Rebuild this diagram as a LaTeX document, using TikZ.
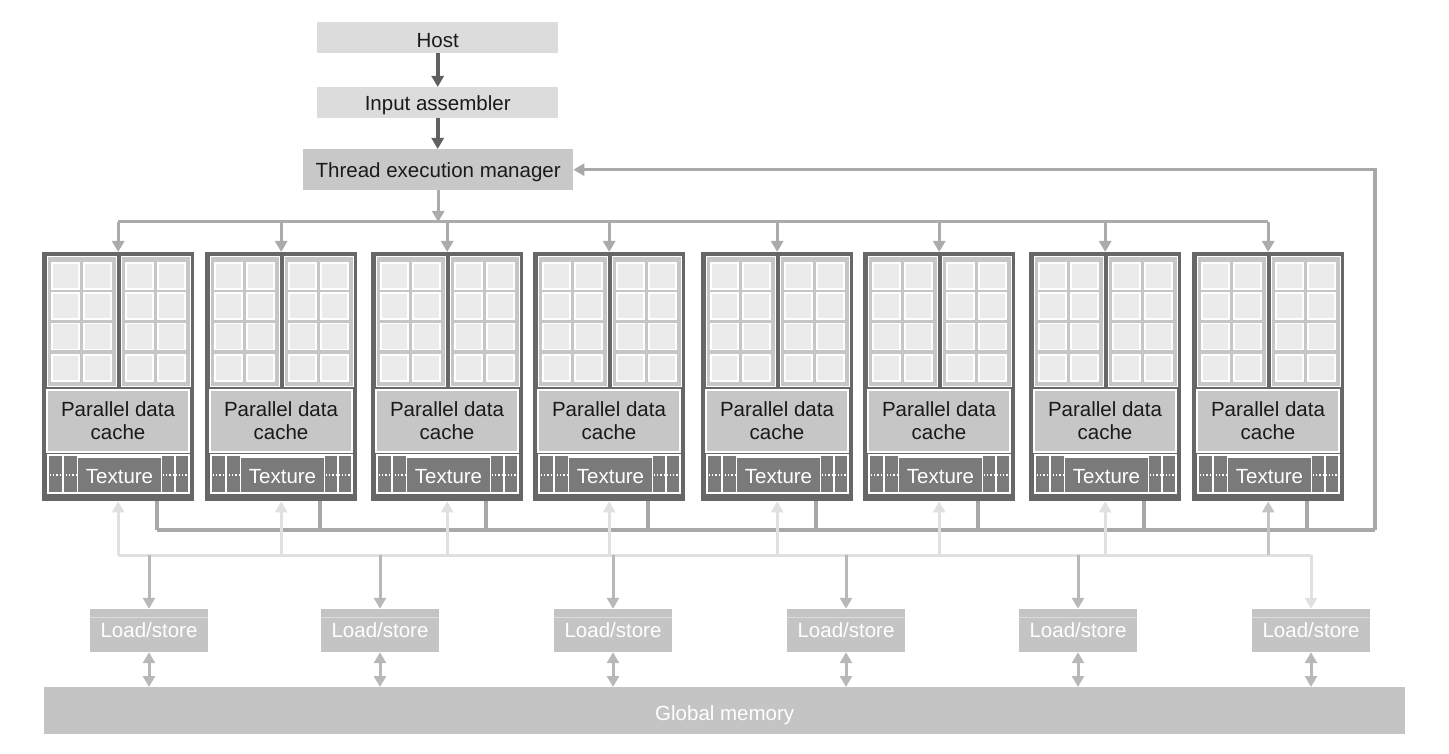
\documentclass[tikz,border=0pt]{standalone}
\usepackage{fontspec}
\setmainfont{Liberation Sans}
\usetikzlibrary{arrows.meta}
\definecolor{hostfill}{HTML}{DCDCDC}
\definecolor{temfill}{HTML}{C8C8C8}
\definecolor{darkarrow}{HTML}{606060}
\definecolor{busgray}{HTML}{ABABAB}
\definecolor{smframe}{HTML}{676767}
\definecolor{clusterfill}{HTML}{C6C6C6}
\definecolor{cellfill}{HTML}{EBEBEB}
\definecolor{pdcfill}{HTML}{C6C6C6}
\definecolor{texfill}{HTML}{7A7A7A}
\definecolor{retgray}{HTML}{A8A8A8}
\definecolor{lightbus}{HTML}{E0E0E0}
\definecolor{lsgray}{HTML}{B8B8B8}
\definecolor{lsfill}{HTML}{C4C4C4}
\definecolor{txtdark}{HTML}{1A1A1A}
\begin{document}
\begin{tikzpicture}[x=1pt,y=-1pt,
  font=\fontsize{20.5}{24}\selectfont,
  topbox/.style={rectangle, inner sep=0pt, draw=none, text=txtdark},
  smbox/.style={rectangle, inner sep=0pt, fill=smframe, draw=none, minimum width=152pt, minimum height=249pt, anchor=north west},
  clusterbox/.style={fill=clusterfill, draw=white, line width=1pt},
  cellbox/.style={fill=cellfill, draw=white, line width=1.5pt},
  pdcbox/.style={rectangle, inner sep=0pt, fill=pdcfill, draw=white, line width=1.5pt, minimum width=142pt, minimum height=62pt, align=center, text=txtdark},
  texrow/.style={fill=texfill, draw=white, line width=1.5pt},
  texbox/.style={rectangle, inner sep=0pt, fill=texfill, draw=white, line width=1.5pt, minimum width=84pt, minimum height=36pt, text=white},
  lsbox/.style={rectangle, inner sep=0pt, fill=lsfill, draw=none, minimum width=118pt, minimum height=43pt, text=white},
  tip/.style={-{Triangle[width=12pt,length=11pt]}},
  dbltip/.style={{Triangle[width=12pt,length=11pt]}-{Triangle[width=12pt,length=11pt]}},
  darkarr/.style={tip, draw=darkarrow, fill=darkarrow, line width=4pt},
  busarr/.style={tip, draw=busgray, line width=3pt},
  busline/.style={draw=busgray, line width=3pt},
  retline/.style={draw=retgray, line width=3.5pt},
  lightline/.style={draw=lightbus, line width=3pt},
  lightarr/.style={tip, draw=lightbus, line width=3pt},
  lsarr/.style={tip, draw=lsgray, line width=3pt},
  dblarr/.style={dbltip, draw=lsgray, line width=3pt},
  lowtext/.style={text depth=0pt}
]
\useasboundingbox (0,0) rectangle (1449,754);

% top chain
\node[topbox, fill=hostfill, minimum width=241pt, minimum height=31pt, anchor=north west] (host) at (317,22) {};
\node[text=txtdark, inner sep=0pt] (hostlabel) at ([yshift=-3pt]host.center) {Host};
\node[topbox, lowtext, fill=hostfill, minimum width=241pt, minimum height=31pt, anchor=north west] (ia) at (317,87) {Input assembler};
\node[topbox, lowtext, fill=temfill, minimum width=270pt, minimum height=41pt, anchor=north west] (tem) at (303,149) {Thread execution manager};
\draw[darkarr] (host.south) -- (ia.north);
\draw[darkarr] (ia.south) -- (tem.north -| ia.south);

% distribution bus
\coordinate (busL) at (118,222);
\coordinate (busR) at (1268,222);
\draw[busline] (busL) -- (busR);
\draw[busarr] (tem.south) -- (tem.south |- busL);

% blocks
\foreach \L [count=\i] in {42,205,371,533,701,863,1029,1192}{
  \node[smbox] (sm\i) at (\L,252) {};
  \foreach \c in {0,74}{
    \draw[clusterbox] ({\L+5+\c},257) rectangle ({\L+74+\c},386);
    \foreach \cx in {10,42}{
      \foreach \ry in {263,293,323.5,355}{
        \draw[cellbox] ({\L+\c+\cx},\ry) rectangle ({\L+\c+\cx+27},{\ry+26});
      }
    }
  }
  \node[pdcbox] (pdc\i) at ({\L+76},421) {Parallel data\\[-1pt]cache};
  \draw[texrow] ({\L+6},455) rectangle ({\L+147},493);
  \draw[white, line width=1.5pt] ({\L+21},455) -- ({\L+21},493);
  \draw[white, line width=1.5pt] ({\L+133},455) -- ({\L+133},493);
  \draw[white, line width=1.2pt, dotted] ({\L+8},475) -- ({\L+34},475);
  \draw[white, line width=1.2pt, dotted] ({\L+121},475) -- ({\L+146},475);
  \node[texbox] (tex\i) at ({\L+77.5},475) {};
  \node[text=white, inner sep=0pt] (texlabel\i) at ([yshift=-1.5pt]tex\i.center) {Texture};
  \draw[busarr] (sm\i.north |- busL) -- (sm\i.north);
  \coordinate (tk\i) at ({\L+115},501);
}

% return path to the thread execution manager
\coordinate (retL) at (157,530);
\coordinate (retR) at (1375,530);
\foreach \i in {1,...,8}{
  \draw[retline] (tk\i) -- (tk\i |- retL);
}
\draw[retline] (retL) -- (retR);
\draw[retline, tip] (retR) |- (tem.east);

% load/store units
\foreach \x [count=\j] in {149,380,613,846,1078,1311}{
  \node[lsbox] (ls\j) at (\x,630.5) {Load/store};
  \draw[lsfill!60!white, line width=0.8pt] (ls\j.north west) ++(0,9) -- ++(118,0);
}
\node[rectangle, inner sep=0pt, fill=lsfill, minimum width=1361pt, minimum height=47pt, anchor=north west] (gm) at (44,687) {};
\node[text=white, inner sep=0pt, lowtext] (gmlabel) at ([yshift=-2pt]gm.center) {Global memory};

% lower light bus
\coordinate (lbL) at (118,555);
\coordinate (lbR) at (1311,555);
\draw[lightline] (lbL) -- (lbR);
\foreach \i in {1,...,7}{
  \draw[lightarr] (sm\i.south |- lbL) -- (sm\i.south);
}
\draw[tip, draw=lsfill, line width=3pt] (sm8.south |- lbL) -- (sm8.south);
\foreach \j in {1,...,5}{
  \draw[lsarr] (ls\j.north |- lbL) -- (ls\j.north);
}
\draw[lightarr] (lbR) -- (ls6.north);
\foreach \j in {1,...,6}{
  \draw[dblarr] (ls\j.south) -- (ls\j.south |- gm.north);
}
\end{tikzpicture}
\end{document}
